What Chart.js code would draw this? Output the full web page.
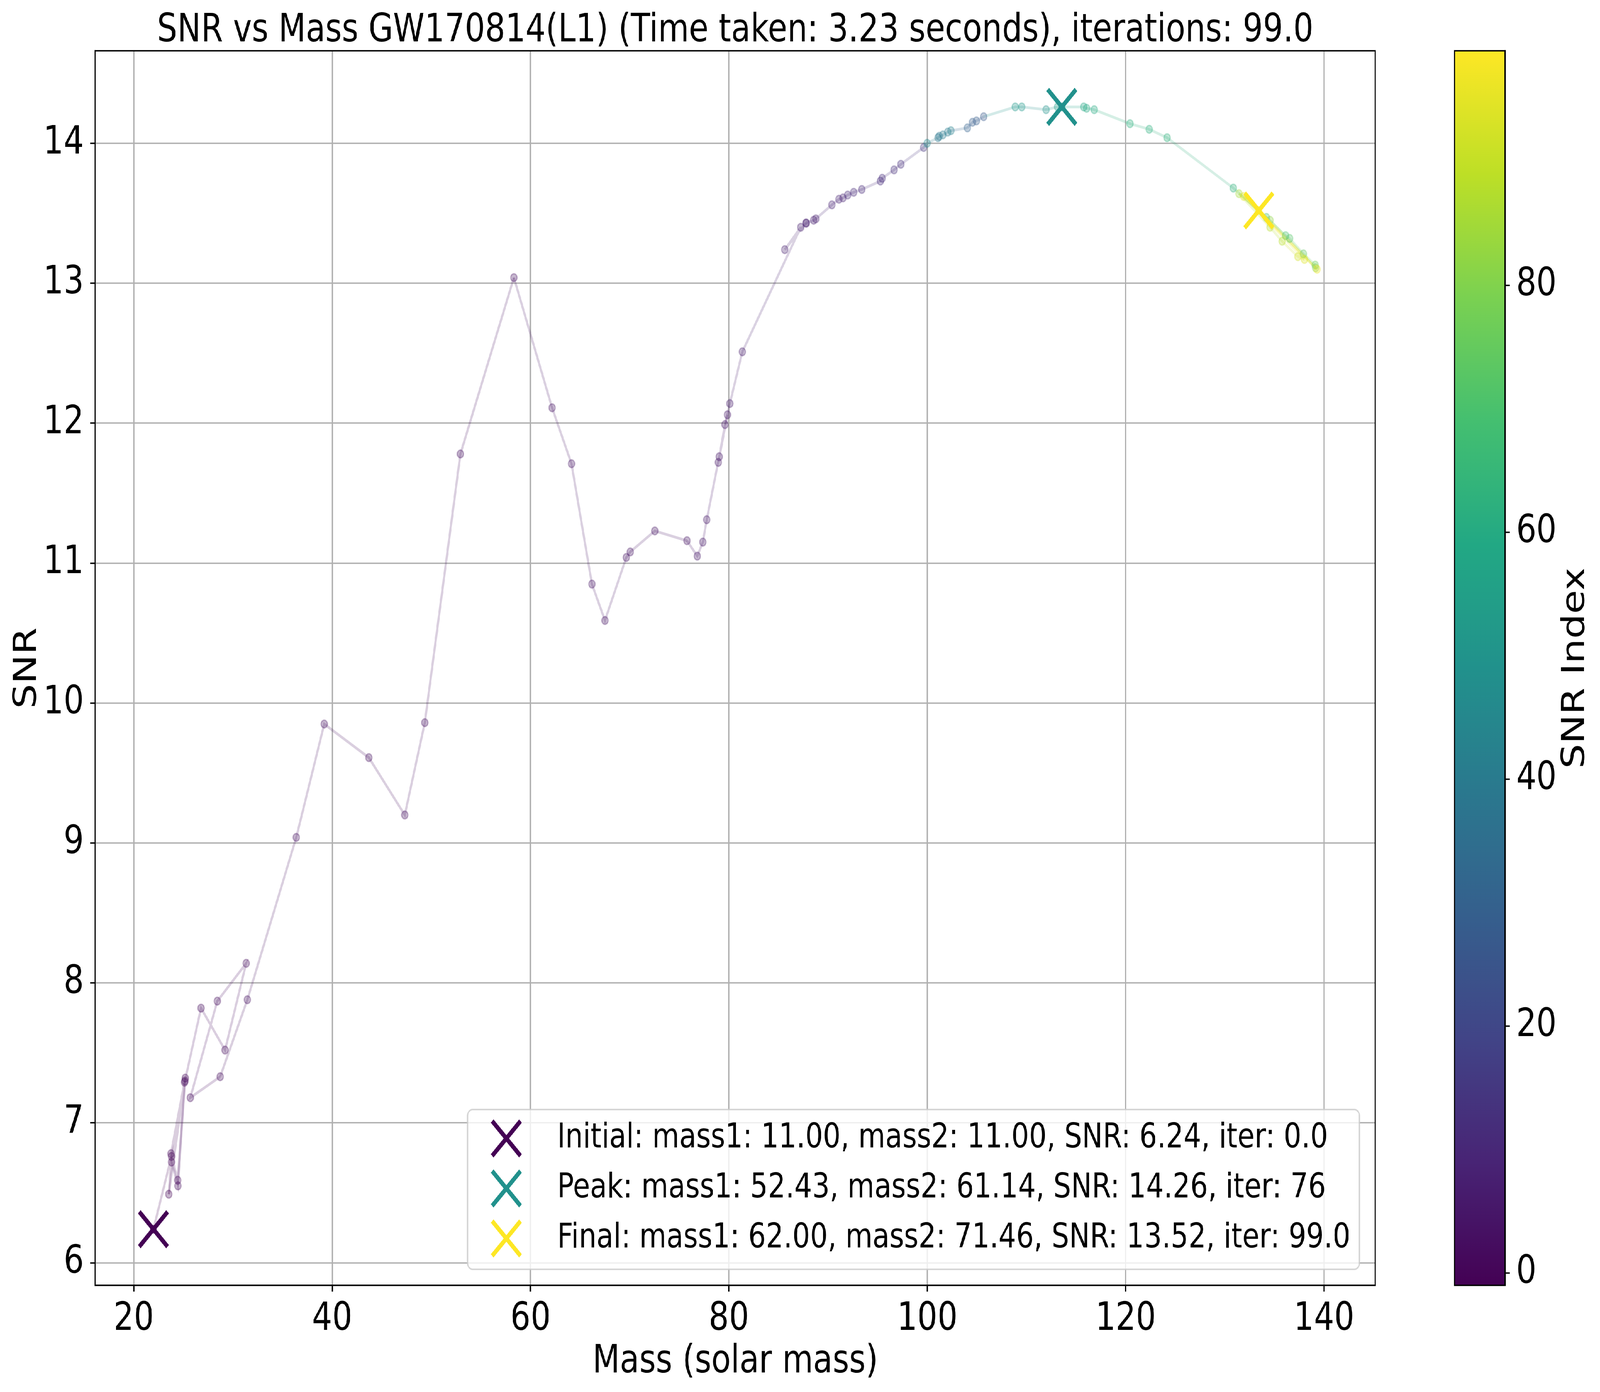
<!DOCTYPE html>
<html>
<head>
<meta charset="utf-8">
<script src="https://cdn.jsdelivr.net/npm/chart.js@4.4.0/dist/chart.umd.min.js"></script>
<style>
html, body { margin: 0; padding: 0; width: 100%; height: 100%; background: #fff; overflow: hidden; }
#view { position: fixed; left: 0; top: 0; width: 100vw; height: 100vh; overflow: hidden; }
#wrap { position: absolute; left: 0; top: 0; width: 5040px; height: 3563px; transform-origin: 0 0; }
canvas { position: absolute; left: 0; top: 0; }
</style>
</head>
<body>
<div id="view">
<div id="wrap">
<canvas id="plot" width="5040" height="3563"></canvas>
<canvas id="cbar" width="5040" height="3563"></canvas>
</div>
</div>
<script>
'use strict';

// search path, in the order it was walked
const massValues = [
    21.98, 23.80, 23.53, 25.19, 23.75, 24.43, 25.12, 23.80, 24.45, 25.16,
    26.78, 29.20, 31.33, 28.42, 25.70, 28.71, 31.45, 36.38, 39.20, 43.70,
    47.32, 49.34, 52.93, 58.32, 62.17, 64.13, 66.19, 67.50, 69.65, 70.05,
    72.53, 75.77, 76.81, 77.37, 77.76, 79.02, 79.85, 78.93, 79.60, 80.09,
    81.35, 87.24, 85.63, 87.76, 87.80, 88.54, 88.76, 90.38, 91.09, 91.50,
    91.97, 92.58, 93.39, 95.27, 95.45, 96.65, 97.33, 99.63, 99.98, 101.08,
    101.20, 101.57, 102.06, 102.38, 104.04, 104.55, 104.95, 105.68, 108.86, 109.52,
    111.97, 113.13, 113.56, 115.77, 116.06, 116.83, 120.43, 122.37, 124.17, 130.85,
    134.18, 136.12, 136.53, 137.92, 139.10, 139.14, 134.55, 131.42, 134.55, 135.77,
    137.36, 138.02, 131.89, 139.29, 133.42
];
const snrValues = [
    6.24, 6.76, 6.49, 7.32, 6.78, 6.59, 7.29, 6.72, 6.55, 7.30,
    7.82, 7.52, 8.14, 7.87, 7.18, 7.33, 7.88, 9.04, 9.85, 9.61,
    9.20, 9.86, 11.78, 13.04, 12.11, 11.71, 10.85, 10.59, 11.04, 11.08,
    11.23, 11.16, 11.05, 11.15, 11.31, 11.76, 12.06, 11.72, 11.99, 12.14,
    12.51, 13.40, 13.24, 13.43, 13.43, 13.45, 13.46, 13.56, 13.60, 13.61,
    13.63, 13.65, 13.67, 13.73, 13.75, 13.81, 13.85, 13.97, 14.00, 14.04,
    14.05, 14.06, 14.08, 14.09, 14.11, 14.15, 14.16, 14.19, 14.26, 14.26,
    14.24, 14.26, 14.26, 14.26, 14.25, 14.24, 14.14, 14.10, 14.04, 13.68,
    13.47, 13.34, 13.32, 13.21, 13.13, 13.11, 13.45, 13.64, 13.40, 13.30,
    13.19, 13.17, 13.62, 13.10, 13.52
];
// colour value of each point
const snrIndex = [
    -1, 0, 0, 1, 1, 1, 1, 1, 2, 2,
    2, 2, 2, 2, 2, 2, 3, 3, 3, 3,
    3, 3, 3, 3, 4, 4, 4, 4, 4, 4,
    4, 4, 5, 5, 5, 5, 5, 5, 5, 6,
    6, 7, 7, 7, 8, 8, 8, 9, 9, 9,
    10, 10, 10, 11, 11, 12, 12, 14, 45, 38,
    38, 40, 40, 42, 30, 28, 28, 27, 52, 52,
    50, 54, 49, 58, 60, 60, 62, 62, 63, 63,
    68, 70, 72, 74, 76, 80, 82, 85, 88, 88,
    92, 94, 95, 96, 99
];

const markerLabels = [
    'Initial: mass1: 11.00, mass2: 11.00, SNR: 6.24, iter: 0.0',
    'Peak: mass1: 52.43, mass2: 61.14, SNR: 14.26, iter: 76',
    'Final: mass1: 62.00, mass2: 71.46, SNR: 13.52, iter: 99.0'
];
const markerMass = [21.98, 113.56, 133.42];
const markerSnr = [6.24, 14.26, 13.52];
const markerIndex = [-1, 49, 99];

const xTicks = [20, 40, 60, 80, 100, 120, 140];
const yTicks = [6, 7, 8, 9, 10, 11, 12, 13, 14];
const cbTicks = [0, 20, 40, 60, 80];
const cbMin = -1, cbMax = 99;

const titleText = 'SNR vs Mass GW170814(L1) (Time taken: 3.23 seconds), iterations: 99.0';
const xLabel = 'Mass (solar mass)';
const yLabel = 'SNR';
const cbLabel = 'SNR Index';

const VIRIDIS = [[68,1,84],[72,36,117],[65,68,135],[53,95,141],[42,120,142],[33,145,140],
                 [34,168,132],[68,191,112],[122,209,81],[189,223,38],[253,231,37]];

function viridis(t, a) {
    t = Math.min(1, Math.max(0, t)) * 10;
    let i = Math.min(9, Math.floor(t)), f = t - i;
    let c = VIRIDIS[i].map((v, k) => Math.round(v + (VIRIDIS[i + 1][k] - v) * f));
    return 'rgba(' + c[0] + ',' + c[1] + ',' + c[2] + ',' + (a === undefined ? 1 : a) + ')';
}
function indexColor(v, a) { return viridis((v - cbMin) / (cbMax - cbMin), a); }

// the window may not be 5040 wide: stretch the 5040x3563 drawing over it
let wrap = document.getElementById('wrap');
wrap.style.transform = 'scale(' + (window.innerWidth / 5040) + ',' + (window.innerHeight / 3563) + ')';

// matplotlib style 5% margins
let allMass = massValues.concat(markerMass), allSnr = snrValues.concat(markerSnr);
let xLo = Math.min(...allMass), xHi = Math.max(...allMass);
let yLo = Math.min(...allSnr), yHi = Math.max(...allSnr);
let xMin = xLo - (xHi - xLo) * 0.05, xMax = xHi + (xHi - xLo) * 0.05;
let yMin = yLo - (yHi - yLo) * 0.05, yMax = yHi + (yHi - yLo) * 0.05;

const FONT = 'DejaVu Sans';
Chart.defaults.font.family = FONT;
Chart.defaults.color = '#000';

let pathPoints = massValues.map((m, i) => ({x: m, y: snrValues[i]}));

let datasets = [{
    data: pathPoints,
    showLine: true,
    order: 10,
    borderWidth: 7,
    borderColor: 'rgba(68,1,84,0.2)',
    segment: {
        borderColor: (ctx) => indexColor(snrIndex[ctx.p1DataIndex], 0.2)
    },
    pointRadius: 10,
    pointBorderWidth: 3.5,
    pointBackgroundColor: snrIndex.map(v => indexColor(v, 0.3)),
    pointBorderColor: snrIndex.map(v => indexColor(v, 0.3))
}];
markerMass.forEach((m, i) => {
    datasets.push({
        data: [{x: m, y: markerSnr[i]}],
        order: i,
        pointStyle: 'crossRot',
        pointRadius: 63,
        pointBorderWidth: 12,
        borderColor: indexColor(markerIndex[i]),
        pointBorderColor: indexColor(markerIndex[i])
    });
});

function axisGrid() {
    return {color: '#b0b0b0', lineWidth: 3.6, tickLength: 16, tickColor: '#000', tickWidth: 3.6};
}

let plotDecor = {
    id: 'plotDecor',
    afterDraw: function(chart) {
        let ctx = chart.ctx, a = chart.chartArea;
        ctx.save();
        ctx.strokeStyle = '#000';
        ctx.lineWidth = 3.6;
        ctx.strokeRect(a.left, a.top, a.right - a.left, a.bottom - a.top);

        ctx.fillStyle = '#000';
        ctx.font = '100px "' + FONT + '"';
        ctx.textAlign = 'center';
        ctx.textBaseline = 'alphabetic';
        let cx = (a.left + a.right) / 2;
        ctx.fillText(titleText, cx, 106);
        ctx.fillText(xLabel, cx, 3513);

        ctx.save();
        ctx.translate(113, (a.top + a.bottom) / 2);
        ctx.rotate(-Math.PI / 2);
        ctx.fillText(yLabel, 0, 0);
        ctx.restore();

        // legend
        let lx = 1473, ly = 2840, lw = 4282 - 1473, lh = 3249 - 2840, r = 16;
        ctx.beginPath();
        ctx.moveTo(lx + r, ly);
        ctx.arcTo(lx + lw, ly, lx + lw, ly + lh, r);
        ctx.arcTo(lx + lw, ly + lh, lx, ly + lh, r);
        ctx.arcTo(lx, ly + lh, lx, ly, r);
        ctx.arcTo(lx, ly, lx + lw, ly, r);
        ctx.closePath();
        ctx.fillStyle = 'rgba(255,255,255,0.8)';
        ctx.fill();
        ctx.strokeStyle = 'rgba(204,204,204,0.8)';
        ctx.lineWidth = 4;
        ctx.stroke();

        ctx.font = '87.5px "' + FONT + '"';
        ctx.textAlign = 'left';
        ctx.textBaseline = 'middle';
        markerLabels.forEach((label, i) => {
            let y = 2914 + i * 128;
            ctx.strokeStyle = indexColor(markerIndex[i]);
            ctx.lineWidth = 12;
            Chart.helpers.drawPoint(ctx, {pointStyle: 'crossRot', radius: 63, rotation: 0, borderWidth: 12}, 1595, y);
            ctx.fillStyle = '#000';
            ctx.fillText(label, 1755, y);
        });
        ctx.restore();
    }
};

new Chart(document.getElementById('plot'), {
    type: 'scatter',
    data: {datasets: datasets},
    options: {
        responsive: false,
        animation: false,
        devicePixelRatio: 1,
        layout: {padding: {left: 0, top: 130, right: 5040 - 4332, bottom: 0}},
        plugins: {legend: {display: false}, tooltip: {enabled: false}, title: {display: false}},
        scales: {
            x: {
                type: 'linear', min: xMin, max: xMax,
                afterFit: (s) => { s.height = 3563 - 3290; },
                afterBuildTicks: (s) => { s.ticks = xTicks.map(v => ({value: v})); },
                grid: axisGrid(),
                border: {color: '#000', width: 3.6},
                ticks: {font: {size: 100}, padding: 12, maxRotation: 0, autoSkip: false}
            },
            y: {
                type: 'linear', min: yMin, max: yMax,
                afterFit: (s) => { s.width = 300; },
                afterBuildTicks: (s) => { s.ticks = yTicks.map(v => ({value: v})); },
                grid: axisGrid(),
                border: {color: '#000', width: 3.6},
                ticks: {font: {size: 100}, padding: 20, autoSkip: false}
            }
        }
    },
    plugins: [plotDecor]
});

let colorbar = {
    id: 'colorbar',
    beforeDraw: function(chart) {
        let ctx = chart.ctx, a = chart.chartArea, ys = chart.scales.y;
        let g = ctx.createLinearGradient(0, ys.getPixelForValue(cbMin), 0, ys.getPixelForValue(cbMax));
        for (let k = 0; k <= 20; k++) {
            g.addColorStop(k / 20, viridis(k / 20));
        }
        ctx.save();
        ctx.fillStyle = g;
        ctx.fillRect(a.left, a.top, a.right - a.left, a.bottom - a.top);
        ctx.restore();
    },
    afterDraw: function(chart) {
        let ctx = chart.ctx, a = chart.chartArea;
        ctx.save();
        ctx.strokeStyle = '#000';
        ctx.lineWidth = 3.6;
        ctx.strokeRect(a.left, a.top, a.right - a.left, a.bottom - a.top);
        ctx.fillStyle = '#000';
        ctx.font = '100px "' + FONT + '"';
        ctx.textAlign = 'center';
        ctx.textBaseline = 'alphabetic';
        ctx.translate(4990, (a.top + a.bottom) / 2);
        ctx.rotate(-Math.PI / 2);
        ctx.fillText(cbLabel, 0, 0);
        ctx.restore();
    }
};

new Chart(document.getElementById('cbar'), {
    type: 'scatter',
    data: {datasets: []},
    options: {
        responsive: false,
        animation: false,
        devicePixelRatio: 1,
        layout: {padding: {left: 4582, top: 130, right: 0, bottom: 3563 - 3290}},
        plugins: {legend: {display: false}, tooltip: {enabled: false}},
        scales: {
            x: {display: false, min: 0, max: 1},
            y: {
                type: 'linear', position: 'right', min: cbMin, max: cbMax,
                afterFit: (s) => { s.width = 5040 - 4741; },
                afterBuildTicks: (s) => { s.ticks = cbTicks.map(v => ({value: v})); },
                grid: {drawOnChartArea: false, tickLength: 15, tickColor: '#000', tickWidth: 3.6},
                border: {color: '#000', width: 3.6},
                ticks: {font: {size: 100}, padding: 20, autoSkip: false}
            }
        }
    },
    plugins: [colorbar]
});
</script>
</body>
</html>
